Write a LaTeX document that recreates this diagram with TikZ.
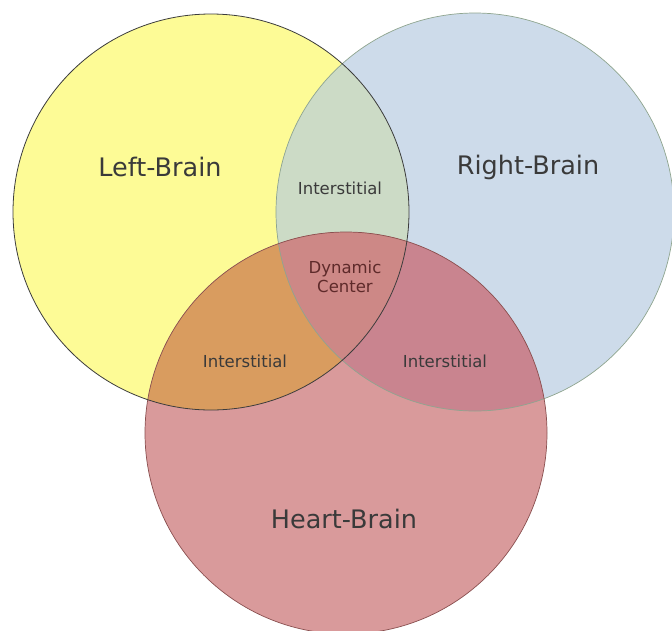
\documentclass[tikz,border=0pt]{standalone}
\usepackage{fontspec}
\setmainfont{DejaVu Sans}
\definecolor{cYel}{HTML}{FDFB96}
\definecolor{cBlu}{HTML}{CDDBEA}
\definecolor{cPnk}{HTML}{D99A9B}
\definecolor{cYB}{HTML}{CCDBC6}
\definecolor{cYP}{HTML}{D99C5F}
\definecolor{cBP}{HTML}{C9848F}
\definecolor{cCtr}{HTML}{CD8886}
\definecolor{eYel}{HTML}{3C3C3C}
\definecolor{eBlu}{HTML}{8FA58F}
\definecolor{ePnk}{HTML}{8A5050}
\definecolor{tDark}{HTML}{3A3A3A}
\definecolor{tRed}{HTML}{5E2A2A}
\tikzset{
  bigtxt/.style={font=\fontsize{25.5}{30}\selectfont, text=tDark},
  smalltxt/.style={font=\fontsize{16.5}{20}\selectfont, text=tDark},
  ctrtxt/.style={font=\fontsize{16.5}{19}\selectfont, text=tRed, align=center},
}
\begin{document}
\begin{tikzpicture}[x=1pt,y=-1pt]
\fill[white] (0,0) rectangle (672,630);
\useasboundingbox (0,0) rectangle (672,630);
\coordinate (L) at (211,212);
\coordinate (R) at (475,212);
\coordinate (H) at (346,433);
% base fills
\fill[cYel] (L) circle[radius=198pt];
\fill[cBlu] (R) circle[radius=199pt];
\fill[cPnk] (H) circle[radius=201pt];
% pairwise overlaps
\begin{scope}
  \clip (L) circle[radius=198pt];
  \fill[cYB] (R) circle[radius=199pt];
\end{scope}
\begin{scope}
  \clip (L) circle[radius=198pt];
  \fill[cYP] (H) circle[radius=201pt];
\end{scope}
\begin{scope}
  \clip (R) circle[radius=199pt];
  \fill[cBP] (H) circle[radius=201pt];
\end{scope}
\begin{scope}
  \clip (L) circle[radius=198pt];
  \clip (R) circle[radius=199pt];
  \fill[cCtr] (H) circle[radius=201pt];
\end{scope}
% outlines
\draw[eBlu, line width=0.7pt] (R) circle[radius=199pt];
\draw[ePnk, line width=0.7pt] (H) circle[radius=201pt];
\draw[eYel, line width=0.8pt] (L) circle[radius=198pt];
% labels
\node[bigtxt] (lb) at (160,167) {Left-Brain};
\node[bigtxt] (rb) at (528,167) {Right-Brain};
\node[bigtxt] (hb) at (344,519) {Heart-Brain};
\node[smalltxt] (i1) at (340,188) {Interstitial};
\node[smalltxt] (i2) at (245,361) {Interstitial};
\node[smalltxt] (i3) at (445,361) {Interstitial};
\node[ctrtxt] (dc) at (345,277) {Dynamic\\Center};
\end{tikzpicture}
\end{document}
